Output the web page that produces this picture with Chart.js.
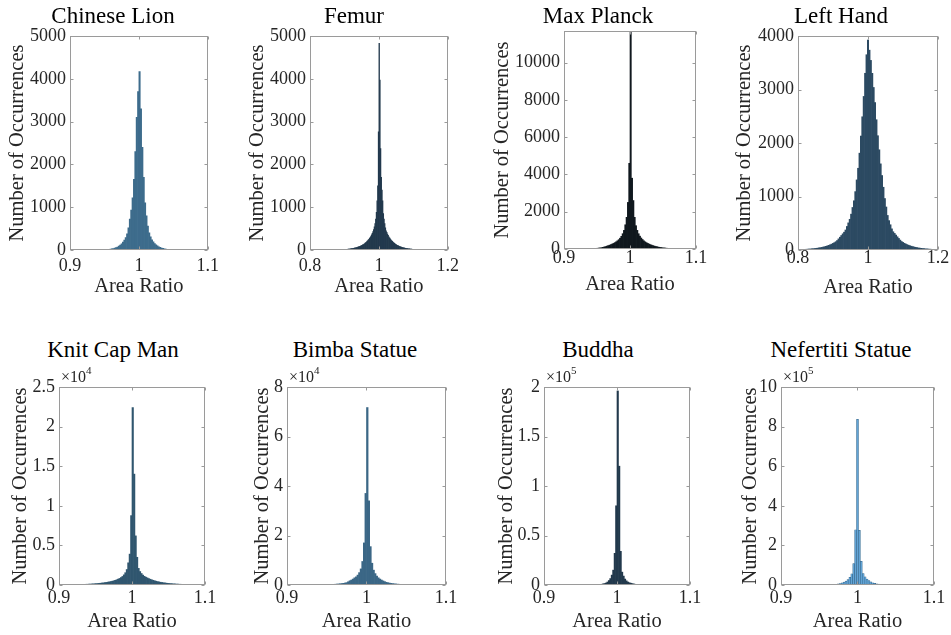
<!DOCTYPE html>
<html>
<head>
<meta charset="utf-8">
<script src="https://cdn.jsdelivr.net/npm/chart.js@4.4.1/dist/chart.umd.min.js"></script>
<style>
  html, body { margin: 0; padding: 0; background: #fff; }
  #fig { position: relative; width: 951px; height: 635px; overflow: hidden; }
  #fig canvas { position: absolute; }
  .ttl { position: absolute; transform: translate(-50%, -50%); font-family: "Liberation Serif";
         font-size: 23px; line-height: 1; color: #000; white-space: nowrap; }
  .expo { position: absolute; font-family: "Liberation Serif"; font-size: 16px; line-height: 1;
          color: #262626; white-space: nowrap; }
  .expo sup { font-size: 11px; vertical-align: top; position: relative; top: -4px; }
</style>
</head>
<body>
<div id="fig"></div>
<script>
// ---- data ----
const titles = ["Chinese Lion", "Femur", "Max Planck", "Left Hand",
                "Knit Cap Man", "Bimba Statue", "Buddha", "Nefertiti Statue"];

// histogram bins: centre of first bin + bin width
const firstCenters = [0.941, 0.901, 0.901, 0.800, 0.901, 0.921, 0.941, 0.9625];
const binWidths = [0.002, 0.002, 0.002, 0.004, 0.002, 0.002, 0.002, 0.0025];

const lionCounts = [2, 2, 3, 4, 5, 7, 9, 12, 15, 20, 26, 34, 43, 55, 70, 90, 115, 145, 185, 230,
  290, 380, 520, 720, 930, 1220, 1650, 2300, 3100, 3700,
  4170, 3300, 2400, 1700, 1100, 800, 560, 400, 310, 240, 190, 150, 120, 95, 75, 60, 47, 37, 29, 23,
  18, 14, 11, 8, 6, 5, 4, 3, 2, 2];

const femurCounts = [14, 15, 16, 17, 18, 20, 22, 24, 26, 28, 31, 34, 37, 40, 44, 48, 52, 57, 62, 67,
  73, 79, 86, 93, 101, 110, 119, 129, 140, 152, 165, 180, 196, 213, 232, 252, 273, 298, 323, 353,
  388, 428, 478, 540, 620, 720, 880, 1150, 1500, 2760,
  4830, 3970, 2370, 1700, 1400, 1150, 850, 720, 620, 520, 450, 410, 370, 340, 310, 285, 262, 240, 220, 203,
  187, 172, 158, 145, 133, 122, 112, 103, 95, 87, 80, 73, 67, 62, 57, 52, 48, 44, 40, 37,
  34, 31, 29, 27, 25, 23, 21, 19, 18, 16];

const planckCounts = [1, 1, 2, 2, 2, 2, 3, 3, 3, 4, 4, 5, 5, 6, 7, 8, 9, 11, 13, 15,
  18, 21, 25, 30, 35, 42, 50, 60, 72, 90, 110, 130, 155, 180, 205, 235, 265, 300, 340, 385,
  440, 500, 580, 680, 820, 1000, 1300, 1700, 2500, 4600,
  11700, 3800, 2600, 1700, 1250, 1000, 820, 690, 590, 510, 440, 385, 340, 300, 265, 235, 205, 180, 158, 138,
  120, 105, 90, 78, 68, 59, 51, 44, 38, 33, 28, 24, 21, 18, 16, 14, 12, 10, 9, 8,
  7, 6, 5, 5, 4, 4, 3, 3, 3, 3];

const handCounts = [6, 7, 8, 9, 10, 12, 14, 16, 18, 20, 22, 25, 28, 31, 35,
  39, 44, 49, 55, 62, 69, 78, 87, 98, 110, 123, 138, 155, 177, 208, 239, 271, 302, 333, 374,
  440, 507, 574, 670, 795, 920, 1091, 1310, 1528, 1810, 2130, 2490, 2870, 3303, 3650,
  3925,
  3735, 3544, 3302, 3038, 2756, 2435, 2136, 1873, 1610, 1392, 1173, 962, 804, 646, 549, 472, 395, 341, 310, 279,
  247, 216, 185, 159, 142, 126, 112, 100, 89, 79, 71, 63, 56, 50, 44,
  39, 35, 31, 28, 25, 22, 20, 18, 16, 14, 12, 10, 9, 8, 7];

const knitCounts = [18, 19, 21, 23, 25, 27, 30, 33, 36, 39, 43, 47, 52, 57, 62, 68, 75, 82, 90, 99,
  108, 119, 130, 143, 157, 172, 189, 207, 227, 249, 273, 300, 330, 362, 398, 437, 480, 530, 590, 660,
  740, 830, 940, 1080, 1280, 1550, 1950, 2800, 3900, 8760,
  22400, 14000, 6200, 3500, 2100, 1700, 1450, 1250, 1100, 990, 900, 810, 730, 660, 595, 535, 480, 432, 390, 352,
  318, 288, 261, 236, 214, 194, 176, 160, 145, 132, 120, 109, 99, 90, 82, 75, 68, 62, 56, 51,
  46, 42, 38, 35, 32, 29, 27, 25, 23, 21];

const bimbaCounts = [19, 22, 25, 29, 33, 38, 44, 50, 58, 67, 77, 89, 102, 118, 135, 155, 180, 210, 240, 280,
  320, 370, 430, 500, 580, 680, 800, 950, 1300, 1700, 2000, 2400, 2900, 3300, 4000, 5000, 6500, 9500, 17000, 37000,
  71700, 34000, 15500, 8800, 6000, 4600, 3600, 2900, 2400, 2000, 1650, 1350, 1100, 920, 780, 660, 560, 480, 410, 350,
  300, 260, 225, 195, 170, 148, 129, 112, 98, 85, 74, 65, 57, 50, 44, 38, 33, 29, 25, 22];

const buddhaCounts = [6, 8, 10, 13, 17, 21, 27, 34, 43, 55, 70, 90, 115, 150, 190, 250, 320, 420, 550, 750,
  1100, 1500, 2000, 3000, 4500, 6500, 10000, 15000, 32000, 80000,
  196000, 120000, 34000, 13000, 9000, 6000, 4200, 3000, 2300, 1800, 1400, 1050, 750, 560, 420, 320, 250, 190, 150, 115,
  90, 70, 55, 43, 34, 27, 21, 17, 13, 10];

const nefertitiCounts = [1200, 1600, 2200, 3000, 4000, 5500, 7500, 10500, 14500, 20000, 28000, 39000, 56000, 108000, 279000,
  837000,
  276000, 120000, 58000, 41000, 30000, 22000, 16000, 11500, 8200, 6000, 4400, 3200, 2400, 1800, 1300];

const allCounts = [lionCounts, femurCounts, planckCounts, handCounts,
                   knitCounts, bimbaCounts, buddhaCounts, nefertitiCounts];

// axis limits and ticks
const xLimits = [[0.9, 1.1], [0.8, 1.2], [0.9, 1.1], [0.8, 1.2],
                 [0.9, 1.1], [0.9, 1.1], [0.9, 1.1], [0.9, 1.1]];
const xTickValues = [[0.9, 1, 1.1], [0.8, 1, 1.2], [0.9, 1, 1.1], [0.8, 1, 1.2],
                     [0.9, 1, 1.1], [0.9, 1, 1.1], [0.9, 1, 1.1], [0.9, 1, 1.1]];
const yMax = [5000, 5000, 11700, 4000, 25000, 80000, 200000, 1000000];
const yTickValues = [
  [0, 1000, 2000, 3000, 4000, 5000],
  [0, 1000, 2000, 3000, 4000, 5000],
  [0, 2000, 4000, 6000, 8000, 10000],
  [0, 1000, 2000, 3000, 4000],
  [0, 5000, 10000, 15000, 20000, 25000],
  [0, 20000, 40000, 60000, 80000],
  [0, 50000, 100000, 150000, 200000],
  [0, 200000, 400000, 600000, 800000, 1000000]
];
const yExponents = [0, 0, 0, 0, 4, 4, 5, 5];

// ---- look ----
const FONT = '"Liberation Serif"';
const TEXT = "#262626";
const FRAME = "#9a9a9a";
const barFills = ["#3d6c8c", "#22394d", "#10181e", "#2c4a62", "#30566f", "#3b6786", "#22394c", "#62a4d6"];
const barEdges = [null, null, null, null, null, null, null, "#2f5f82"];

// plot boxes in page pixels (L,R,T,B) + label centres
const boxes = [
  { L: 70,  R: 209, T: 36,  B: 249, yLab: 17.5,  xTick: 266, xLab: 287,   tx: 113, ty: 15 },
  { L: 310, R: 449, T: 36,  B: 249, yLab: 257.7, xTick: 266, xLab: 287,   tx: 354, ty: 15 },
  { L: 564, R: 695, T: 31,  B: 248, yLab: 502.5, xTick: 258, xLab: 285,   tx: 598, ty: 15 },
  { L: 798, R: 937, T: 36,  B: 249, yLab: 744,   xTick: 258, xLab: 288,   tx: 841, ty: 15 },
  { L: 59,  R: 204, T: 387, B: 584, yLab: 20,    xTick: 598, xLab: 621.7, tx: 113, ty: 349 },
  { L: 287, R: 445, T: 387, B: 584, yLab: 262,   xTick: 598, xLab: 621.7, tx: 355, ty: 349 },
  { L: 544, R: 689, T: 387, B: 584, yLab: 506,   xTick: 598, xLab: 621.7, tx: 598, ty: 349 },
  { L: 781, R: 933, T: 387, B: 584, yLab: 750,   xTick: 598, xLab: 621.7, tx: 841, ty: 349 }
];

const LABEL_SIZE = 20.5;
const LABEL_HALF = LABEL_SIZE * 1.2 / 2;
const TICK_SIZE = 18;
const PAD_TOP = 14;
const PAD_RIGHT = 16;

// MATLAB-like box with inward ticks on all four sides
const boxPlugin = {
  id: "matlabBox",
  afterDatasetsDraw(chart) {
    const { ctx, chartArea: a } = chart;
    const xs = chart.scales.x;
    const ys = chart.scales.y;
    const l = Math.round(a.left) + 0.5;
    const r = Math.round(a.right) - 0.5;
    const t = Math.round(a.top) + 0.5;
    const b = Math.round(a.bottom) - 0.5;
    const len = 3;
    ctx.save();
    ctx.strokeStyle = FRAME;
    ctx.lineWidth = 1;
    ctx.strokeRect(l, t, r - l, b - t);
    ctx.beginPath();
    xs.ticks.forEach((tk) => {
      const p = Math.round(xs.getPixelForValue(tk.value)) + 0.5;
      ctx.moveTo(p, b); ctx.lineTo(p, b - len);
      ctx.moveTo(p, t); ctx.lineTo(p, t + len);
    });
    ys.ticks.forEach((tk) => {
      const p = Math.round(ys.getPixelForValue(tk.value)) + 0.5;
      ctx.moveTo(l, p); ctx.lineTo(l + len, p);
      ctx.moveTo(r, p); ctx.lineTo(r - len, p);
    });
    ctx.stroke();
    ctx.restore();
  }
};

const fig = document.getElementById("fig");

function trimNum(v) {
  return String(+v.toFixed(4));
}

function buildPanel(i) {
  const g = boxes[i];
  const canvasLeft = Math.round(g.yLab - LABEL_HALF);
  const canvasTop = g.T - PAD_TOP;
  const canvasBottom = Math.round(g.xLab + LABEL_HALF);
  const width = g.R + 1 + PAD_RIGHT - canvasLeft;
  const height = canvasBottom - canvasTop;
  const yAxisWidth = g.L - canvasLeft;
  const xAxisHeight = canvasBottom - (g.B + 1);
  const scaleDiv = Math.pow(10, yExponents[i]);

  const canvas = document.createElement("canvas");
  canvas.width = width;
  canvas.height = height;
  canvas.style.left = canvasLeft + "px";
  canvas.style.top = canvasTop + "px";
  canvas.style.width = width + "px";
  canvas.style.height = height + "px";
  fig.appendChild(canvas);

  const counts = allCounts[i];
  const points = counts.map((c, k) => ({ x: firstCenters[i] + k * binWidths[i], y: c }));

  new Chart(canvas, {
    type: "bar",
    data: {
      datasets: [{
        data: points,
        backgroundColor: barFills[i],
        borderColor: barEdges[i] || barFills[i],
        borderWidth: barEdges[i] ? 0.5 : 0,
        borderSkipped: false,
        barPercentage: 1,
        categoryPercentage: 1,
        grouped: false
      }]
    },
    options: {
      responsive: false,
      animation: false,
      devicePixelRatio: 1,
      layout: { padding: { top: PAD_TOP, right: PAD_RIGHT, left: 0, bottom: 0 } },
      plugins: { legend: { display: false }, tooltip: { enabled: false }, title: { display: false } },
      scales: {
        x: {
          type: "linear",
          offset: false,
          min: xLimits[i][0],
          max: xLimits[i][1],
          grid: { display: false, drawTicks: false },
          border: { display: false },
          afterBuildTicks: (s) => { s.ticks = xTickValues[i].map((v) => ({ value: v })); },
          afterFit: (s) => { s.height = xAxisHeight; },
          ticks: {
            autoSkip: false,
            maxRotation: 0,
            padding: g.xTick - (g.B + 1) - TICK_SIZE / 2,
            color: TEXT,
            font: { family: FONT, size: TICK_SIZE, lineHeight: 1 },
            callback: (v) => trimNum(v)
          },
          title: {
            display: true,
            text: "Area Ratio",
            color: TEXT,
            padding: 0,
            font: { family: FONT, size: LABEL_SIZE, lineHeight: 1.2 }
          }
        },
        y: {
          min: 0,
          max: yMax[i],
          grid: { display: false, drawTicks: false },
          border: { display: false },
          afterBuildTicks: (s) => { s.ticks = yTickValues[i].map((v) => ({ value: v })); },
          afterFit: (s) => { s.width = yAxisWidth; },
          ticks: {
            autoSkip: false,
            padding: 4,
            color: TEXT,
            font: { family: FONT, size: TICK_SIZE, lineHeight: 1 },
            callback: (v) => trimNum(v / scaleDiv)
          },
          title: {
            display: true,
            text: "Number of Occurrences",
            color: TEXT,
            padding: 0,
            font: { family: FONT, size: LABEL_SIZE, lineHeight: 1.2 }
          }
        }
      }
    },
    plugins: [boxPlugin]
  });

  // title above the axes
  const t = document.createElement("div");
  t.className = "ttl";
  t.style.left = g.tx + "px";
  t.style.top = g.ty + "px";
  t.textContent = titles[i];
  fig.appendChild(t);

  // x10^n multiplier at the top-left corner
  if (yExponents[i]) {
    const e = document.createElement("div");
    e.className = "expo";
    e.style.left = (g.L + 2) + "px";
    e.style.top = (g.T - 18) + "px";
    e.innerHTML = "\u00d710<sup>" + yExponents[i] + "</sup>";
    fig.appendChild(e);
  }
}

for (let i = 0; i < titles.length; i++) buildPanel(i);
</script>
</body>
</html>
